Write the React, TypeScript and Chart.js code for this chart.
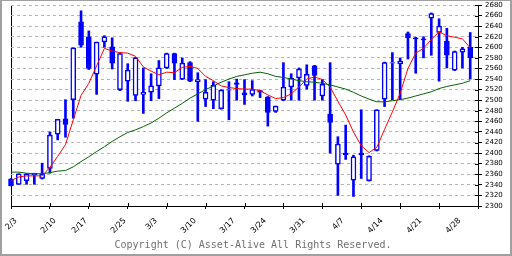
import React, { useEffect, useRef } from 'react';
import { Chart, registerables } from 'chart.js';

Chart.register(...registerables);

const dateLabels = ['2/3', '2/10', '2/17', '2/25', '3/3', '3/10', '3/17', '3/24', '3/31', '4/7', '4/14', '4/21', '4/28'];
// trading-day index at which each date label sits
const labelIndex = [0, 5, 9, 14, 18, 23, 28, 32, 37, 42, 47, 52, 57];
// tick marks every 5 trading days
const tickMarks = [0, 5, 10, 15, 20, 25, 30, 35, 40, 45, 50, 55, 60];

const opens = [
  2351, 2341, 2348, 2359, 2352, 2371, 2436, 2465, 2501, 2648,
  2620, 2549, 2610, 2601, 2520, 2536, 2509, 2511, 2515, 2527,
  2561, 2588, 2540, 2571, 2535, 2502, 2500, 2484, 2519, 2533,
  2514, 2511, 2518, 2506, 2479, 2500, 2525, 2542, 2528, 2565,
  2508, 2474, 2379, 2400, 2349, 2400, 2348, 2405, 2502, 2570,
  2569, 2626, 2618, 2616, 2655, 2628, 2612, 2557, 2591, 2600,
];
const highs = [
  2352, 2361, 2361, 2362, 2381, 2440, 2464, 2501, 2599, 2669,
  2631, 2610, 2622, 2618, 2590, 2569, 2581, 2561, 2550, 2575,
  2589, 2589, 2580, 2573, 2552, 2539, 2535, 2520, 2535, 2540,
  2539, 2537, 2519, 2507, 2489, 2571, 2550, 2561, 2567, 2566,
  2539, 2571, 2431, 2453, 2396, 2482, 2395, 2482, 2572, 2590,
  2580, 2629, 2619, 2620, 2665, 2654, 2636, 2593, 2600, 2628,
];
const lows = [
  2338, 2341, 2341, 2341, 2351, 2362, 2425, 2430, 2466, 2600,
  2558, 2511, 2600, 2559, 2518, 2498, 2499, 2475, 2499, 2503,
  2560, 2539, 2539, 2535, 2460, 2488, 2484, 2483, 2463, 2500,
  2492, 2508, 2505, 2451, 2477, 2499, 2500, 2500, 2521, 2500,
  2500, 2400, 2320, 2388, 2318, 2352, 2347, 2404, 2488, 2501,
  2501, 2578, 2551, 2580, 2585, 2536, 2561, 2556, 2561, 2540,
];
const closes = [
  2338, 2361, 2361, 2362, 2361, 2434, 2464, 2454, 2599, 2604,
  2560, 2610, 2620, 2570, 2588, 2557, 2580, 2515, 2527, 2561,
  2588, 2570, 2570, 2536, 2539, 2515, 2528, 2519, 2520, 2530,
  2510, 2520, 2515, 2477, 2489, 2525, 2542, 2559, 2549, 2547,
  2530, 2458, 2417, 2397, 2393, 2397, 2394, 2482, 2571, 2571,
  2574, 2618, 2616, 2614, 2664, 2640, 2585, 2592, 2597, 2580,
];
const ma5 = [
  2348, 2355, 2357, 2357, 2357, 2373, 2394, 2416, 2463, 2509,
  2532, 2565, 2598, 2593, 2590, 2589, 2583, 2563, 2555, 2548,
  2553, 2552, 2562, 2564, 2560, 2545, 2537, 2527, 2524, 2522,
  2521, 2521, 2518, 2510, 2503, 2505, 2512, 2525, 2540, 2544,
  2539, 2525, 2498, 2472, 2440, 2414, 2401, 2411, 2445, 2478,
  2513, 2560, 2589, 2598, 2615, 2629, 2622, 2619, 2616, 2599,
];
const ma25 = [
  2364, 2364, 2362, 2361, 2361, 2363, 2366, 2367, 2374, 2384,
  2393, 2403, 2412, 2422, 2431, 2439, 2444, 2450, 2457, 2466,
  2476, 2485, 2494, 2504, 2512, 2520, 2527, 2534, 2540, 2545,
  2548, 2551, 2553, 2550, 2545, 2543, 2540, 2537, 2535, 2534,
  2532, 2529, 2525, 2521, 2515, 2508, 2502, 2497, 2497, 2499,
  2501, 2504, 2508, 2512, 2516, 2522, 2526, 2529, 2532, 2537,
];

const innerTicks = {
  id: 'innerTicks',
  afterDraw(chart: any) {
    const { ctx, chartArea, scales } = chart;
    ctx.save();
    ctx.strokeStyle = '#000';
    ctx.lineWidth = 1;
    tickMarks.forEach((v) => {
      const px = Math.round(scales.x.getPixelForValue(v)) + 0.5;
      ctx.beginPath();
      ctx.moveTo(px, chartArea.bottom - 3);
      ctx.lineTo(px, chartArea.bottom);
      ctx.stroke();
    });
    scales.y.ticks.forEach((t: any) => {
      const py = Math.round(scales.y.getPixelForValue(t.value)) + 0.5;
      ctx.beginPath();
      ctx.moveTo(chartArea.right - 3, py);
      ctx.lineTo(chartArea.right, py);
      ctx.stroke();
    });
    ctx.restore();
  },
};

export default function App() {
  const ref = useRef<HTMLCanvasElement>(null);

  useEffect(() => {
    const canvas = ref.current!;
    const idx = opens.map((_, i) => i);
    const wickData = idx.map((i) => ({ x: i, y: [lows[i], highs[i]] }));
    const bodyData = idx.map((i) => ({ x: i, y: [opens[i], closes[i]] }));
    const bodyFill = idx.map((i) => (closes[i] >= opens[i] ? '#ffffff' : '#0000ff'));
    const allTicks = Array.from(new Set([...tickMarks, ...labelIndex])).sort((a, b) => a - b);

    const chart = new Chart(canvas, {
      type: 'bar',
      data: {
        datasets: [
          {
            type: 'line',
            data: ma5.map((v, i) => ({ x: i, y: v })),
            borderColor: '#ff0000',
            borderWidth: 1,
            pointRadius: 0,
            tension: 0,
            order: 0,
          } as any,
          {
            type: 'line',
            data: ma25.map((v, i) => ({ x: i, y: v })),
            borderColor: '#006400',
            borderWidth: 1,
            pointRadius: 0,
            tension: 0,
            order: 0,
          } as any,
          {
            type: 'bar',
            data: bodyData,
            backgroundColor: bodyFill,
            borderColor: '#0000ff',
            borderWidth: 1.5,
            borderSkipped: false,
            barThickness: 5,
            grouped: false,
            clip: false,
            order: 1,
          } as any,
          {
            type: 'bar',
            data: wickData,
            backgroundColor: '#0000ff',
            borderWidth: 0,
            barThickness: 2,
            grouped: false,
            clip: false,
            order: 2,
          } as any,
        ],
      },
      options: {
        animation: false,
        responsive: false,
        maintainAspectRatio: false,
        layout: { padding: { left: 11, top: 5, right: 0, bottom: 0 } },
        plugins: {
          legend: { display: false },
          tooltip: { enabled: false },
          title: { display: false },
        },
        scales: {
          x: {
            type: 'linear',
            min: 0,
            max: 60,
            offset: false,
            afterBuildTicks: (s: any) => {
              s.ticks = allTicks.map((v) => ({ value: v }));
            },
            grid: {
              offset: false,
              drawOnChartArea: true,
              color: (c: any) => (c.tick && c.tick.value === 0 ? '#000000' : 'rgba(0,0,0,0)'),
              tickColor: (c: any) => (c.tick && c.tick.value % 5 === 0 ? '#000000' : 'rgba(0,0,0,0)'),
              tickLength: 3,
              lineWidth: 1,
            },
            border: { display: true, color: '#000000', width: 1 },
            ticks: {
              autoSkip: false,
              minRotation: 45,
              maxRotation: 45,
              padding: 7,
              labelOffset: 5,
              color: '#000000',
              font: { family: 'DejaVu Sans', size: 8 },
              callback: (v: any) => {
                const k = labelIndex.indexOf(Number(v));
                return k >= 0 ? dateLabels[k] : '';
              },
            },
            afterFit: (s: any) => {
              s.height = 50;
              s.paddingLeft = 0;
              s.paddingRight = 0;
            },
          },
          y: {
            type: 'linear',
            position: 'right',
            min: 2300,
            max: 2680,
            grid: {
              color: (c: any) => (c.tick && c.tick.value === 2300 ? 'rgba(0,0,0,0)' : '#b4b4b4'),
              tickColor: '#000000',
              tickLength: 4,
              lineWidth: 1,
            },
            border: { display: true, color: '#000000', width: 1, dash: [3, 3] },
            ticks: {
              stepSize: 20,
              autoSkip: false,
              padding: 3,
              color: '#000000',
              font: { family: 'DejaVu Sans', size: 7 },
              callback: (v: any) => String(v),
            },
            afterFit: (s: any) => {
              s.width = 34;
              s.paddingTop = 0;
              s.paddingBottom = 0;
            },
          },
        },
      } as any,
      plugins: [innerTicks],
    });

    return () => chart.destroy();
  }, []);

  return (
    <div style={{ position: 'fixed', left: 0, top: 0, width: 512, height: 256, background: '#ffffff', overflow: 'hidden' }}>
      <canvas ref={ref} width={512} height={256} style={{ position: 'absolute', left: 0, top: 0, width: 512, height: 256 }} />
      <div
        style={{
          position: 'absolute',
          left: 0,
          top: 239,
          width: 506,
          textAlign: 'center',
          fontFamily: '"DejaVu Sans Mono", monospace',
          fontSize: 10,
          lineHeight: '12px',
          color: '#707070',
          whiteSpace: 'nowrap',
        }}
      >
        Copyright (C) Asset-Alive All Rights Reserved.
      </div>
      <div
        style={{
          position: 'absolute',
          left: 0,
          top: 0,
          width: 512,
          height: 256,
          boxSizing: 'border-box',
          borderStyle: 'solid',
          borderColor: '#a0a0a0',
          borderWidth: '1px 2px 2px 2px',
          pointerEvents: 'none',
        }}
      />
    </div>
  );
}
